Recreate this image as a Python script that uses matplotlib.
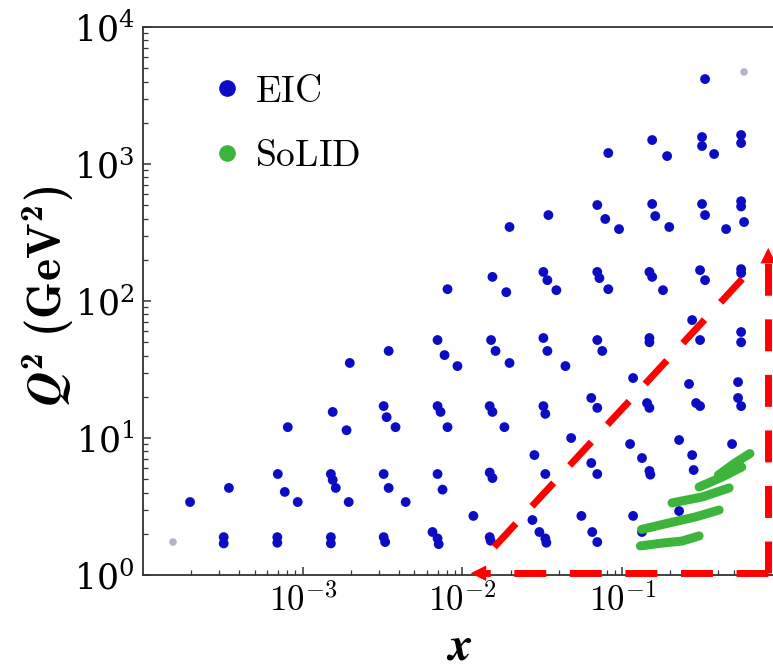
import matplotlib
matplotlib.use("Agg")
import matplotlib.pyplot as plt
from matplotlib.lines import Line2D

plt.rcParams['mathtext.fontset'] = 'cm'
plt.rcParams['font.family'] = 'serif'
plt.rcParams['font.serif'] = ['DejaVu Serif']
# custom math set for the axis titles: CM bold upright, STIX bold italic
plt.rcParams['mathtext.rm'] = 'cmr10'
plt.rcParams['mathtext.bf'] = 'cmb10'
plt.rcParams['mathtext.it'] = 'cmmi10'
plt.rcParams['mathtext.bfit'] = 'STIXGeneral:italic:bold'

# EIC pseudo-data bin centres, listed band by band in Q^2
eic_x = [3.20e-4, 3.20e-4, 6.93e-4, 6.93e-4, 1.50e-3, 1.50e-3, 3.21e-3, 3.28e-3,
         6.49e-3, 6.98e-3, 7.10e-3, 1.48e-2, 1.50e-2, 3.03e-2, 3.30e-2, 3.35e-2,
         6.49e-2, 6.98e-2, 0.133,
         1.97e-4, 3.45e-4, 6.98e-4, 7.72e-4, 9.30e-4, 1.50e-3, 1.54e-3, 1.61e-3,
         1.94e-3, 3.21e-3, 3.45e-3, 4.41e-3, 6.98e-3, 7.50e-3, 1.17e-2, 1.48e-2,
         1.54e-2, 2.74e-2, 2.82e-2, 3.30e-2, 5.55e-2, 4.79e-2, 6.40e-2, 6.98e-2,
         0.112, 0.117, 0.133, 0.148, 0.150, 0.227, 0.274, 0.280, 0.227, 0.487,
         8.06e-4, 1.54e-3, 1.88e-3, 3.21e-3, 3.35e-3, 3.81e-3, 6.98e-3, 7.29e-3,
         8.06e-3, 1.48e-2, 1.54e-2, 1.83e-2, 3.21e-2, 3.30e-2, 6.40e-2, 6.98e-2,
         0.117, 0.143, 0.148, 0.262, 0.290, 0.307, 0.531, 0.531, 0.555,
         1.97e-3, 3.45e-3, 6.98e-3, 7.72e-3, 9.30e-3, 1.51e-2, 1.61e-2, 1.97e-2,
         3.21e-2, 3.40e-2, 4.41e-2, 6.98e-2, 7.50e-2, 0.148, 0.148, 0.274, 0.307,
         0.555, 0.555,
         8.06e-3, 1.54e-2, 1.88e-2, 3.21e-2, 3.40e-2, 3.87e-2, 6.98e-2, 7.20e-2,
         8.18e-2, 0.148, 0.154, 0.180, 0.307, 0.330, 0.555, 0.555,
         1.97e-2, 3.45e-2, 6.98e-2, 7.83e-2, 9.55e-2, 0.154, 0.161, 0.197,
         0.316, 0.330, 0.447, 0.555, 0.555, 0.579,
         8.18e-2, 0.154, 0.191, 0.316, 0.316, 0.376, 0.555, 0.555,
         0.330]
eic_q2 = [1.89, 1.70, 1.89, 1.72, 1.89, 1.70, 1.89, 1.74,
          2.06, 1.85, 1.68, 1.89, 1.78, 2.06, 1.85, 1.72,
          2.06, 1.74, 2.06,
          3.41, 4.32, 5.46, 4.04, 3.41, 5.46, 4.94, 4.32,
          3.41, 5.46, 4.32, 3.41, 5.46, 4.20, 2.70, 5.60,
          5.10, 2.52, 7.51, 5.46, 2.70, 10.0, 6.57, 5.46,
          9.04, 2.70, 7.14, 5.75, 5.40, 9.67, 7.51, 5.84, 2.93, 9.04,
          12.0, 15.5, 11.4, 17.1, 14.2, 12.0, 17.1, 15.5,
          12.0, 17.1, 15.5, 12.0, 17.1, 15.0, 19.6, 16.6,
          27.4, 18.0, 16.6, 24.8, 18.0, 17.1, 25.6, 19.6, 17.1,
          35.3, 43.2, 51.9, 40.3, 33.5, 51.9, 43.2, 35.3,
          53.7, 43.2, 33.5, 51.9, 43.2, 53.7, 50.0, 72.6, 51.9,
          59.4, 50.0,
          122, 150, 116, 163, 142, 120, 163, 147,
          122, 163, 150, 120, 168, 142, 171, 160,
          347, 424, 502, 397, 335, 511, 417, 347,
          511, 424, 335, 535, 490, 377,
          1203, 1497, 1143, 1574, 1353, 1183, 1629, 1423,
          4170]

# faint edge bins
edge_x = [1.54e-4, 0.579]
edge_q2 = [1.74, 4700]

# SoLID coverage, one streak per beam setting
solid_x = [[0.130, 0.178, 0.237, 0.303],
           [0.132, 0.197, 0.286, 0.404],
           [0.205, 0.316, 0.467],
           [0.303, 0.422, 0.560],
           [0.400, 0.508, 0.630]]
solid_q2 = [[1.63, 1.71, 1.77, 1.93],
            [2.15, 2.40, 2.65, 2.98],
            [3.36, 3.71, 4.32],
            [4.39, 5.19, 6.14],
            [5.37, 6.57, 7.70]]

# dashed triangle marking the large-x region
tri_diag_x = [0.0158, 0.58]
tri_diag_q2 = [1.6, 150]
tri_corner_x = [0.0108, 0.82]
tri_corner_q2 = [1.03, 256]

x_ticks = [1e-3, 1e-2, 1e-1]
x_ticklabels = [r'$10^{-3}$', r'$10^{-2}$', r'$10^{-1}$']

blue = '#0c0cc4'
green = '#3db53d'

fig = plt.figure(figsize=(7.73, 6.69), dpi=100)
ax = fig.add_axes([0.185, 0.1405, 0.8266, 0.8191])

ax.scatter(eic_x, eic_q2, s=50, color=blue, edgecolors='none', zorder=3)
ax.scatter(edge_x, edge_q2, s=30, color='#b4b4c4', edgecolors='none', zorder=3)
for xs, qs in zip(solid_x, solid_q2):
    ax.plot(xs, qs, color=green, lw=6.5, solid_capstyle='round', zorder=4)

ax.set_xscale('log')
ax.set_yscale('log')
ax.set_xlim(1e-4, 1)
ax.set_ylim(1, 1e4)
ax.set_xticks(x_ticks)
ax.set_xticklabels(x_ticklabels)

# red dashed triangle with arrowheads
dash = (0, (4.6, 3.4))
x0, x1 = tri_corner_x
y0, y1 = tri_corner_q2
ax.plot(tri_diag_x, tri_diag_q2, color='red', lw=5, ls=dash, clip_on=False, zorder=5)
ax.plot([x1, x0 * 1.25], [y0, y0], color='red', lw=5, ls=dash, clip_on=False, zorder=5)
ax.plot([x1, x1], [y0, y1 * 0.85], color='red', lw=5, ls=dash, clip_on=False, zorder=5)
ax.annotate('', xy=(x0, y0), xytext=(x0 * 1.3, y0), annotation_clip=False,
            arrowprops=dict(arrowstyle='-|>', color='red', lw=0, mutation_scale=28), zorder=6)
ax.annotate('', xy=(x1, y1), xytext=(x1, y1 * 0.8), annotation_clip=False,
            arrowprops=dict(arrowstyle='-|>', color='red', lw=0, mutation_scale=28), zorder=6)

for side in ['left', 'bottom', 'top']:
    ax.spines[side].set_linewidth(1.3)
    ax.spines[side].set_color('#333333')
ax.spines['right'].set_visible(False)
ax.tick_params(which='both', direction='in', top=False, right=False, color='#333333')
ax.tick_params(which='major', length=6, width=1.1, labelsize=25, pad=6)
ax.tick_params(which='minor', length=3.5, width=0.9)

ax.set_xlabel(r'$\boldsymbol{x}$', fontsize=34, math_fontfamily='custom')
ax.set_ylabel(r'$\boldsymbol{Q}^{\mathbf{2}}\ \mathbf{(GeV^2)}$', fontsize=34,
              math_fontfamily='custom')
ax.xaxis.set_label_coords(0.495, -0.09)
ax.yaxis.set_label_coords(-0.105, 0.51)

handles = [Line2D([], [], marker='o', ls='', color=blue, markersize=11),
           Line2D([], [], marker='o', ls='', color=green, markersize=11)]
ax.legend(handles, [r'$\mathrm{EIC}$', r'$\mathrm{SoLID}$'], loc='upper left',
          bbox_to_anchor=(0.114, 0.915), frameon=False, fontsize=27,
          handlelength=0.6, handletextpad=0.45, borderpad=0, borderaxespad=0,
          labelspacing=0.75)

fig.savefig('out.png', dpi=100)
